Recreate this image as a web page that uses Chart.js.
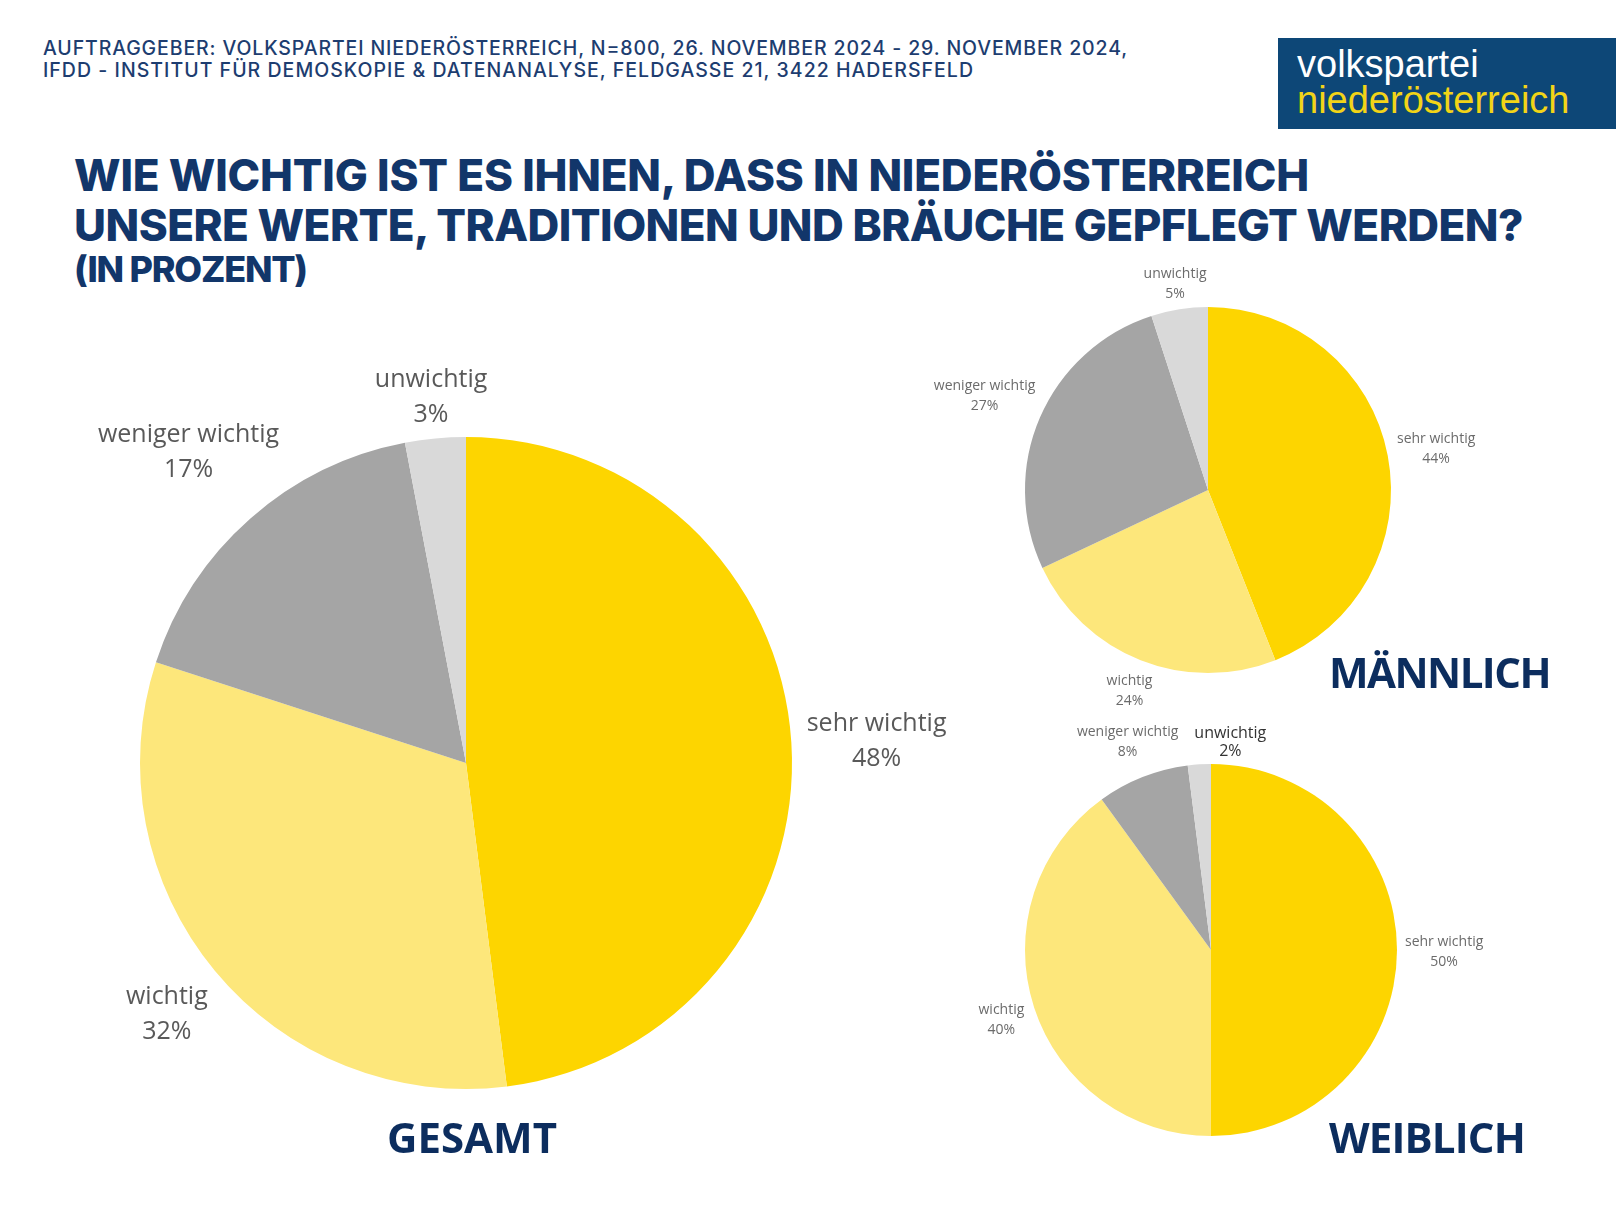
<!DOCTYPE html>
<html lang="de">
<head>
<meta charset="utf-8">
<title>Werte, Traditionen und Bräuche</title>
<script src="https://cdn.jsdelivr.net/npm/chart.js@4.4.1/dist/chart.umd.min.js"></script>
<style>
  html, body { margin: 0; padding: 0; background: #fff; }
  #page { position: relative; width: 1616px; height: 1212px; overflow: hidden; background: #fff; }
  .txt { position: absolute; white-space: nowrap; }
  .head { font-family: Inter, sans-serif; font-weight: 500; font-size: 19.5px; line-height: 22px; color: #1d3d70; }
  .title { font-family: Inter, sans-serif; font-weight: 800; font-size: 44px; line-height: 50px; color: #12366a; }
  .sub { font-family: "Open Sans", sans-serif; font-weight: 700; font-size: 42px; line-height: 50px; color: #0c2d5e; }
  #logo { position: absolute; left: 1278px; top: 38px; width: 338px; height: 91px; background: #0d4777; }
  .logo { font-family: "Liberation Sans", Arial, sans-serif; font-size: 38px; line-height: 40px; }
  .pie { position: absolute; left: 0; top: 0; width: 1616px; height: 1212px; }
</style>
</head>
<body>
<div id="page">
  <div class="txt head" style="left:43px; top:37px;" data-w="1085">AUFTRAGGEBER: VOLKSPARTEI NIEDERÖSTERREICH, N=800, 26. NOVEMBER 2024 - 29. NOVEMBER 2024,</div>
  <div class="txt head" style="left:43px; top:59px;" data-w="931">IFDD - INSTITUT FÜR DEMOSKOPIE &amp; DATENANALYSE, FELDGASSE 21, 3422 HADERSFELD</div>

  <div id="logo"></div>
  <div class="txt logo" style="left:1297px; top:44px; color:#ffffff;">volkspartei</div>
  <div class="txt logo" style="left:1297px; top:80px; color:#f2d417;">niederösterreich</div>

  <div class="txt title" style="left:74px; top:150px;" data-w="1235">WIE WICHTIG IST ES IHNEN, DASS IN NIEDERÖSTERREICH</div>
  <div class="txt title" style="left:74px; top:200px;" data-w="1449">UNSERE WERTE, TRADITIONEN UND BRÄUCHE GEPFLEGT WERDEN?</div>
  <div class="txt title" style="left:74px; top:246px; font-size:36px; line-height:46px;" data-w="232">(IN PROZENT)</div>

  <div class="pie"><canvas id="gesamtChart"></canvas></div>
  <div class="pie"><canvas id="maennlichChart"></canvas></div>
  <div class="pie"><canvas id="weiblichChart"></canvas></div>

  <div class="txt sub" style="left:387px; top:1112px;" data-w="170">GESAMT</div>
  <div class="txt sub" style="left:1329px; top:647px;" data-w="221">MÄNNLICH</div>
  <div class="txt sub" style="left:1329px; top:1112px;" data-w="196">WEIBLICH</div>
</div>

<script>
// answer categories, clockwise from 12 o'clock
const categories = ['sehr wichtig', 'wichtig', 'weniger wichtig', 'unwichtig'];

// percentages per group
const gesamtValues = [48, 32, 17, 3];
const maennlichValues = [44, 24, 27, 5];
const weiblichValues = [50, 40, 8, 2];

const sliceColors = ['#fdd500', '#fde77b', '#a5a5a5', '#d9d9d9'];

// stretch text lines to the widths they have in the original layout
document.querySelectorAll('[data-w]').forEach(function (el) {
    const target = parseFloat(el.dataset.w);
    const natural = el.getBoundingClientRect().width;
    const n = el.textContent.length;
    el.style.letterSpacing = ((target - natural) / n) + 'px';
});

// labels outside the pie, pushed out along the slice middle
const outsideLabels = {
    id: 'outsideLabels',
    afterDatasetsDraw(chart, args, opts) {
        const ctx = chart.ctx;
        const meta = chart.getDatasetMeta(0);
        const values = chart.data.datasets[0].data;
        const placed = [];
        ctx.save();
        ctx.textAlign = 'center';
        ctx.textBaseline = 'middle';
        meta.data.forEach(function (arc, i) {
            const p = arc.getProps(['x', 'y', 'startAngle', 'endAngle', 'outerRadius'], true);
            const mid = (p.startAngle + p.endAngle) / 2;
            const cos = Math.cos(mid), sin = Math.sin(mid);
            const special = opts.special && opts.special.index === i ? opts.special : {};
            const size = special.fontSize || opts.fontSize;
            const lh = special.lineHeight || opts.lineHeight;
            const color = special.color || opts.color;
            const lines = [chart.data.labels[i], values[i] + '%'];
            ctx.font = (special.weight || 400) + ' ' + size + 'px "Open Sans"';
            const w = Math.max.apply(null, lines.map(function (l) { return ctx.measureText(l).width; }));
            const hh = (lh * (lines.length - 1) + size * 0.7) / 2;
            const d = p.outerRadius + opts.gap + (w / 2) * Math.abs(cos) + hh * Math.abs(sin);
            let cx = p.x + cos * d;
            const cy = p.y + sin * d + size * 0.16;
            placed.forEach(function (b) {
                const overlap = cx - w / 2 < b.x2 && cx + w / 2 > b.x1 && cy - hh < b.y2 && cy + hh > b.y1;
                if (overlap) {
                    cx = cx >= (b.x1 + b.x2) / 2 ? b.x2 + w / 2 + opts.pad : b.x1 - w / 2 - opts.pad;
                }
            });
            placed.push({ x1: cx - w / 2, x2: cx + w / 2, y1: cy - hh, y2: cy + hh });
            ctx.fillStyle = color;
            lines.forEach(function (l, k) {
                ctx.fillText(l, cx, cy + (k - (lines.length - 1) / 2) * lh);
            });
        });
        ctx.restore();
    }
};

function makePie(id, values, padding, labelOpts) {
    new Chart(document.getElementById(id), {
        type: 'pie',
        data: {
            labels: categories,
            datasets: [{
                data: values,
                backgroundColor: sliceColors,
                borderWidth: 0,
                hoverOffset: 0
            }]
        },
        options: {
            responsive: true,
            maintainAspectRatio: false,
            animation: false,
            events: [],
            layout: { padding: padding },
            plugins: {
                legend: { display: false },
                tooltip: { enabled: false },
                outsideLabels: labelOpts
            }
        },
        plugins: [outsideLabels]
    });
}

makePie('gesamtChart', gesamtValues,
    { left: 140, right: 824, top: 437, bottom: 123 },
    { fontSize: 25, lineHeight: 35, gap: 14, pad: 14, color: '#595959' });

makePie('maennlichChart', maennlichValues,
    { left: 1025, right: 225, top: 307, bottom: 539 },
    { fontSize: 14, lineHeight: 20, gap: 8, pad: 14, color: '#6b6b6b' });

makePie('weiblichChart', weiblichValues,
    { left: 1025, right: 219, top: 764, bottom: 76 },
    { fontSize: 14, lineHeight: 20, gap: 8, pad: 16, color: '#6b6b6b',
      special: { index: 3, fontSize: 16, lineHeight: 18, color: '#333333' } });
</script>
</body>
</html>
